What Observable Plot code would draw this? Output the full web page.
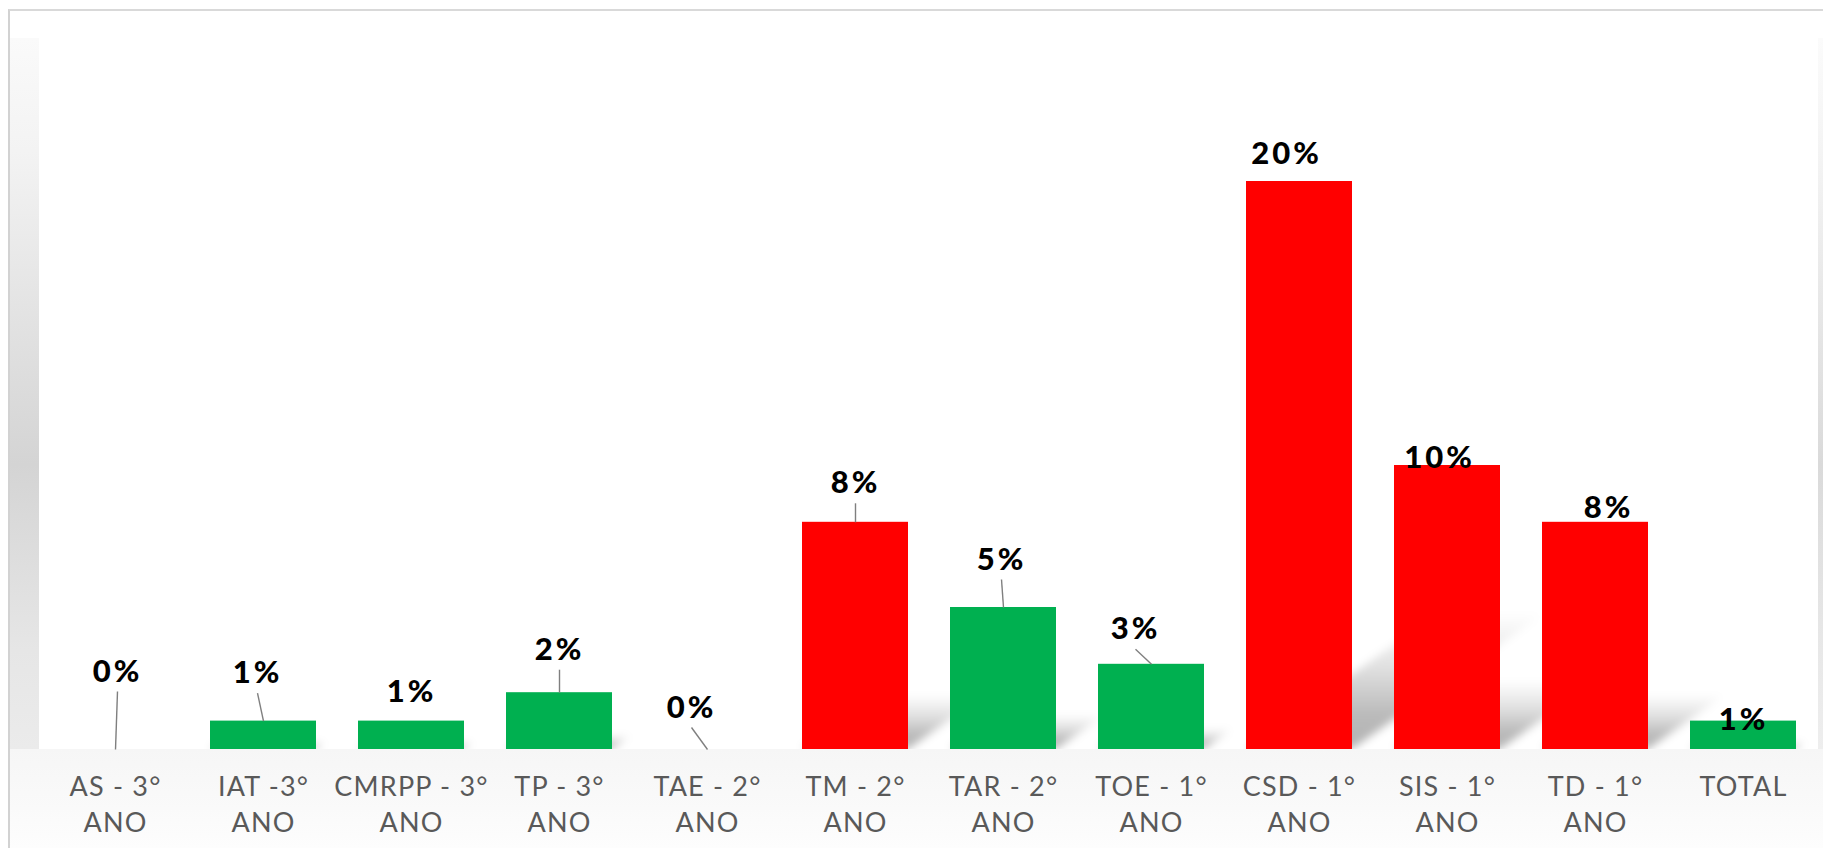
<!DOCTYPE html>
<html>
<head>
<meta charset="utf-8">
<script src="https://cdn.jsdelivr.net/npm/d3@7"></script>
<script src="https://cdn.jsdelivr.net/npm/@observablehq/plot@0.6"></script>
<style>
  html, body { margin: 0; padding: 0; background: #ffffff; }
  #wrap { position: relative; width: 1823px; height: 848px; overflow: hidden; background: #ffffff; }
  #border { position: absolute; left: 8px; top: 9px; width: 1830px; height: 850px;
            border-left: 2px solid #d2d2d2; border-top: 2px solid #d9d9d9; box-sizing: border-box; }
  #wall { position: absolute; left: 10px; top: 38px; width: 29px; height: 711px;
          background: linear-gradient(to bottom, #fafafa 0%, #f3f3f3 16%, #d4d4d4 60%, #e6e6e6 86%, #ebebeb 100%); }
  #rwall { position: absolute; left: 1818px; top: 38px; width: 5px; height: 711px;
          background: linear-gradient(to bottom, #fbfbfb 0%, #f4f4f4 16%, #dadada 60%, #e8e8e8 86%, #eeeeee 100%); }
  #floor { position: absolute; left: 10px; top: 749px; right: 0; bottom: 0;
           background: linear-gradient(to bottom, #f6f6f6 0%, #fafafa 60%, #fdfdfd 100%); }
  #chart { position: absolute; left: 0; top: 0; }
  #chart svg [aria-label="x-axis tick label"] text { letter-spacing: 1.2px; }
</style>
</head>
<body>
<div id="wrap">
  <div id="border"></div>
  <div id="wall"></div>
  <div id="rwall"></div>
  <div id="floor"></div>
  <div id="chart"></div>
</div>
<script>
// ---- data ----
const categorias = ["AS - 3°", "IAT -3°", "CMRPP - 3°", "TP - 3°", "TAE - 2°", "TM - 2°",
                    "TAR - 2°", "TOE - 1°", "CSD - 1°", "SIS - 1°", "TD - 1°", "TOTAL"];
const subrotulos = ["ANO", "ANO", "ANO", "ANO", "ANO", "ANO", "ANO", "ANO", "ANO", "ANO", "ANO", ""];
const percentuais = [0, 1, 1, 2, 0, 8, 5, 3, 20, 10, 8, 1];
const situacao = ["meta", "meta", "meta", "meta", "meta", "alerta",
                  "meta", "meta", "alerta", "alerta", "alerta", "meta"];

// ---- layout: manual data-label offsets (px) relative to the top centre of each bar ----
const labelShift = [[2, -68], [-6, -38], [0, -19], [0, -33], [-16, -32], [0, -29],
                    [-2, -38], [-16, -25], [-13, -18], [-8, 2], [13, -4], [0, 9]];

const rows = categorias.map((c, i) => ({
  cat: c, sub: subrotulos[i], value: percentuais[i], status: situacao[i], label: percentuais[i] + "%"
}));
const hasLeader = labelShift.map(s => s[1] < -22);

const svgns = "http://www.w3.org/2000/svg";

const chart = Plot.plot({
  width: 1823,
  height: 848,
  marginLeft: 39,
  marginRight: 5,
  marginTop: 181,
  marginBottom: 99,
  style: { fontFamily: "Lato, 'Open Sans', sans-serif", background: "transparent", overflow: "visible" },
  x: { domain: categorias, paddingInner: 0.285, paddingOuter: 0.1425, axis: null },
  y: { domain: [0, 20], axis: null },
  color: { domain: ["meta", "alerta"], range: ["#00B050", "#FF0000"] },
  marks: [
    // perspective shadows
    Plot.barY(rows, {
      x: "cat", y: "value", fill: "url(#shadowGrad)",
      render(index, scales, values, dimensions, context, next) {
        const g = next(index, scales, values, dimensions, context);
        const base = scales.y(0);
        const k = 0.34, m = 0.24;
        const outer = document.createElementNS(svgns, "g");
        outer.setAttribute("filter", "url(#shadowBlur)");
        outer.setAttribute("clip-path", "url(#shadowClip)");
        const inner = document.createElementNS(svgns, "g");
        inner.setAttribute("transform", `matrix(1,0,${-k},${m},${k * base},${base * (1 - m)})`);
        inner.appendChild(g);
        outer.appendChild(inner);
        return outer;
      }
    }),
    // bars
    Plot.barY(rows, { x: "cat", y: "value", fill: "status" }),
    // leader lines
    Plot.link(rows, {
      x1: "cat", x2: "cat", y1: "value", y2: "value",
      filter: hasLeader,
      stroke: "#7f7f7f", strokeWidth: 1.4,
      render(index, scales, values, dimensions, context, next) {
        const X1 = Float64Array.from(values.x1, (v, i) => v + labelShift[i][0]);
        const Y1 = Float64Array.from(values.y1, (v, i) => v + labelShift[i][1] + 10);
        return next(index, scales, { ...values, x1: X1, y1: Y1 }, dimensions, context);
      }
    }),
    // value labels
    Plot.text(rows, {
      x: "cat", y: "value", text: "label",
      fontSize: 31, fontWeight: 900, fill: "#000000", lineAnchor: "bottom",
      render(index, scales, values, dimensions, context, next) {
        const X = Float64Array.from(values.x, (v, i) => v + labelShift[i][0]);
        const Y = Float64Array.from(values.y, (v, i) => v + labelShift[i][1]);
        const g = next(index, scales, { ...values, x: X, y: Y }, dimensions, context);
        g.setAttribute("letter-spacing", "3");
        return g;
      }
    }),
    // category axis
    Plot.axisX({
      tickSize: 0,
      tickPadding: 22,
      fontSize: 27,
      lineHeight: 1.3,
      color: "#595959",
      label: null,
      tickFormat: d => {
        const i = categorias.indexOf(d);
        return subrotulos[i] ? d + "\n" + subrotulos[i] : d;
      }
    })
  ]
});

// definitions for the shadow look
const defs = d3.select(chart).insert("defs", ":first-child");
const grad = defs.append("linearGradient").attr("id", "shadowGrad")
  .attr("x1", 0).attr("y1", 0).attr("x2", 0).attr("y2", 1);
grad.append("stop").attr("offset", 0).attr("stop-color", "#000").attr("stop-opacity", 0.0);
grad.append("stop").attr("offset", 0.4).attr("stop-color", "#000").attr("stop-opacity", 0.12);
grad.append("stop").attr("offset", 0.75).attr("stop-color", "#000").attr("stop-opacity", 0.27);
grad.append("stop").attr("offset", 1).attr("stop-color", "#000").attr("stop-opacity", 0.3);
const filt = defs.append("filter").attr("id", "shadowBlur")
  .attr("x", "-20%").attr("y", "-20%").attr("width", "140%").attr("height", "140%");
filt.append("feGaussianBlur").attr("stdDeviation", 4);
const clip = defs.append("clipPath").attr("id", "shadowClip");
clip.append("rect").attr("x", 0).attr("y", 0).attr("width", 1823).attr("height", 749);

document.getElementById("chart").appendChild(chart);
</script>
</body>
</html>
